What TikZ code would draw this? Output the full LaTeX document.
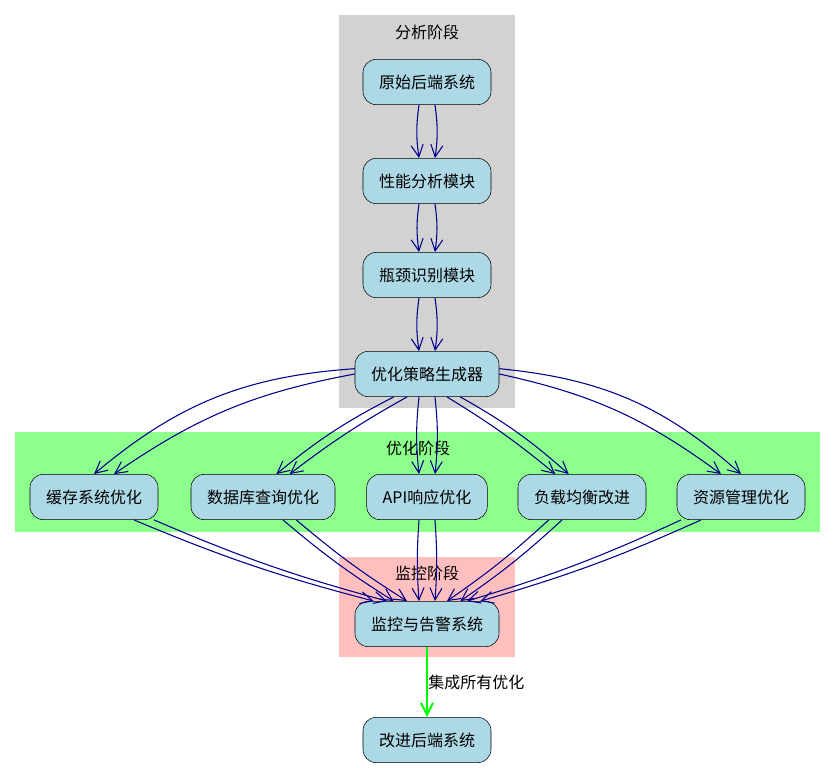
\documentclass[tikz,border=0pt]{standalone}
\usepackage{fontspec}
\setmainfont{Noto Sans CJK SC}
\usetikzlibrary{arrows.meta}
\begin{document}
\begin{tikzpicture}[x=0.75pt,y=-0.75pt,
  box/.style = {draw, fill=cyan!20!blue!10!white, fill={rgb,255:red,173;green,216;blue,230}, rounded corners=10pt, minimum height=34pt, inner xsep=12pt, font=\fontsize{12}{14}\selectfont},
  e/.style = {draw={rgb,255:red,0;green,0;blue,139}, -{Straight Barb[length=9pt,width=9pt]}, line width=0.8pt},
  lbl/.style = {font=\fontsize{12}{14}\selectfont}]
  \useasboundingbox (0,0) rectangle (836,768);
  % clusters
  \fill[gray!35] (339,15) rectangle (515,408);
  \fill[green!45!white] (15,432) rectangle (820,532);
  \fill[pink] (339,557) rectangle (515,657);
  \node[lbl] (cA) at (427,32) {分析阶段};
  \node[lbl] (cB) at (418,448) {优化阶段};
  % nodes
  \node[box] (orig) at (427,82) {原始后端系统};
  \node[box] (perf) at (427,181) {性能分析模块};
  \node[box] (bott) at (427,275) {瓶颈识别模块};
  \node[box] (strat) at (427,374) {优化策略生成器};
  \node[box] (cache) at (94,497) {缓存系统优化};
  \node[box] (db) at (263,497) {数据库查询优化};
  \node[box] (api) at (427,497) {API响应优化};
  \node[box] (lb) at (582,497) {负载均衡改进};
  \node[box] (res) at (741,497) {资源管理优化};
  \node[lbl] (cC) at (427,573) {监控阶段};
  \node[box] (mon) at (427,624) {监控与告警系统};
  \node[box] (impr) at (427,740) {改进后端系统};
  % analysis chain (double edges)
  \foreach \a/\b in {orig/perf, perf/bott, bott/strat} {
    \draw[e] ([xshift=-6pt]\a.south) to[bend right=8] ([xshift=-6pt]\b.north);
    \draw[e] ([xshift=6pt]\a.south) to[bend left=8] ([xshift=6pt]\b.north);
  }
  % fan out
  \draw[e] (strat.west) to[bend right=12] ([xshift=15pt]cache.north);
  \draw[e] ([yshift=4pt]strat.west) to[bend right=18] ([xshift=0pt]cache.north);
  \draw[e] ([xshift=-15pt]strat.south) to[bend right=4] ([xshift=20pt]db.north);
  \draw[e] ([xshift=-25pt]strat.south) to[bend right=6] ([xshift=10pt]db.north);
  \draw[e] ([xshift=-6pt]strat.south) to[bend right=6] ([xshift=-6pt]api.north);
  \draw[e] ([xshift=6pt]strat.south) to[bend left=6] ([xshift=6pt]api.north);
  \draw[e] ([xshift=15pt]strat.south) to[bend left=4] ([xshift=-20pt]lb.north);
  \draw[e] ([xshift=25pt]strat.south) to[bend left=6] ([xshift=-10pt]lb.north);
  \draw[e] (strat.east) to[bend left=12] ([xshift=-15pt]res.north);
  \draw[e] ([yshift=4pt]strat.east) to[bend left=18] ([xshift=0pt]res.north);
  % fan in
  \draw[e] ([xshift=30pt]cache.south) to[bend right=4] ([xshift=-40pt]mon.north);
  \draw[e] ([xshift=45pt]cache.south) to[bend right=4] ([xshift=-30pt]mon.north);
  \draw[e] ([xshift=15pt]db.south) to[bend right=4] ([xshift=-25pt]mon.north);
  \draw[e] ([xshift=25pt]db.south) to[bend right=4] ([xshift=-15pt]mon.north);
  \draw[e] ([xshift=-6pt]api.south) to[bend right=4] ([xshift=-6pt]mon.north);
  \draw[e] ([xshift=6pt]api.south) to[bend left=4] ([xshift=6pt]mon.north);
  \draw[e] ([xshift=-25pt]lb.south) to[bend left=4] ([xshift=15pt]mon.north);
  \draw[e] ([xshift=-15pt]lb.south) to[bend left=4] ([xshift=25pt]mon.north);
  \draw[e] ([xshift=-45pt]res.south) to[bend left=4] ([xshift=30pt]mon.north);
  \draw[e] ([xshift=-30pt]res.south) to[bend left=4] ([xshift=40pt]mon.north);
  % final
  \draw[green, line width=1.5pt, -{Straight Barb[length=9pt,width=9pt]}] (mon) -- (impr)
    node[midway, right, lbl, text=black, xshift=-3pt] {集成所有优化};
\end{tikzpicture}
\end{document}
